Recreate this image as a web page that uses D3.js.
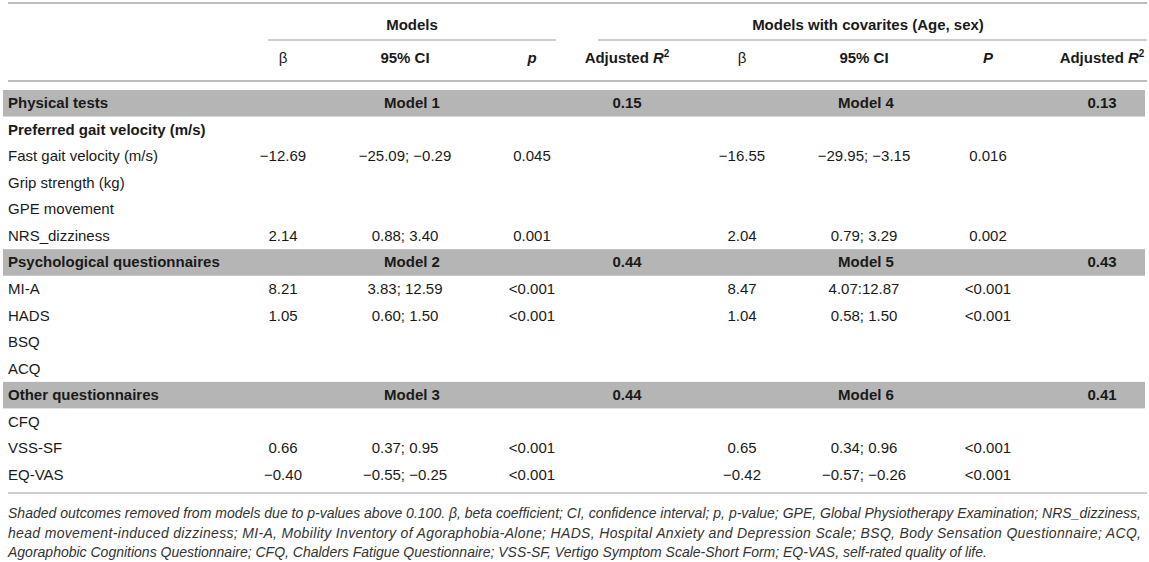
<!DOCTYPE html>
<html>
<head>
<meta charset="utf-8">
<script src="https://cdn.jsdelivr.net/npm/d3@7"></script>
<style>
  html, body { margin: 0; padding: 0; background: #fff; }
  svg { display: block; font-family: "Liberation Sans", Arial, Helvetica, sans-serif; }
</style>
</head>
<body>
<svg id="chart" width="1149" height="562"></svg>
<script>
// ---- data ----
const rowLabels = [
  "Physical tests", "Preferred gait velocity (m/s)", "Fast gait velocity (m/s)", "Grip strength (kg)",
  "GPE movement", "NRS_dizziness", "Psychological questionnaires", "MI-A", "HADS", "BSQ", "ACQ",
  "Other questionnaires", "CFQ", "VSS-SF", "EQ-VAS"
];
const rowKinds = ["group", "bold", "", "", "", "", "group", "", "", "", "", "group", "", "", ""];
const modelA = ["Model 1", "", "", "", "", "", "Model 2", "", "", "", "", "Model 3", "", "", ""];
const modelB = ["Model 4", "", "", "", "", "", "Model 5", "", "", "", "", "Model 6", "", "", ""];
const betaA = ["", "", "\u221212.69", "", "", "2.14", "", "8.21", "1.05", "", "", "", "", "0.66", "\u22120.40"];
const ciA   = ["", "", "\u221225.09; \u22120.29", "", "", "0.88; 3.40", "", "3.83; 12.59", "0.60; 1.50", "", "", "", "", "0.37; 0.95", "\u22120.55; \u22120.25"];
const pA    = ["", "", "0.045", "", "", "0.001", "", "<0.001", "<0.001", "", "", "", "", "<0.001", "<0.001"];
const r2A   = ["0.15", "", "", "", "", "", "0.44", "", "", "", "", "0.44", "", "", ""];
const betaB = ["", "", "\u221216.55", "", "", "2.04", "", "8.47", "1.04", "", "", "", "", "0.65", "\u22120.42"];
const ciB   = ["", "", "\u221229.95; \u22123.15", "", "", "0.79; 3.29", "", "4.07:12.87", "0.58; 1.50", "", "", "", "", "0.34; 0.96", "\u22120.57; \u22120.26"];
const pB    = ["", "", "0.016", "", "", "0.002", "", "<0.001", "<0.001", "", "", "", "", "<0.001", "<0.001"];
const r2B   = ["0.13", "", "", "", "", "", "0.43", "", "", "", "", "0.41", "", "", ""];
const columnKeys = ["betaA", "ciA", "pA", "r2A", "betaB", "ciB", "pB", "r2B"];
const footnoteLines = [
  "Shaded outcomes removed from models due to p-values above 0.100. \u03b2, beta coefficient; CI, confidence interval; p, p-value; GPE, Global Physiotherapy Examination; NRS_dizziness,",
  "head movement-induced dizziness; MI-A, Mobility Inventory of Agoraphobia-Alone; HADS, Hospital Anxiety and Depression Scale; BSQ, Body Sensation Questionnaire; ACQ,",
  "Agoraphobic Cognitions Questionnaire; CFQ, Chalders Fatigue Questionnaire; VSS-SF, Vertigo Symptom Scale-Short Form; EQ-VAS, self-rated quality of life."
];

const columns = { betaA, ciA, pA, r2A, betaB, ciB, pB, r2B };

// ---- layout ----
const svg = d3.select("#chart");
const y = d3.scaleBand().domain(d3.range(rowLabels.length)).range([90, 488]).paddingInner(0);
const x = d3.scaleOrdinal().domain(columnKeys).range([283, 405, 532, 627, 742, 864, 988, 1102]);
const lineColor = "#bdbdbd";
const textColor = "#1a1a1a";
const fs = 15;

// horizontal rules
svg.append("line").attr("x1", 8).attr("x2", 1147).attr("y1", 3).attr("y2", 3)
  .attr("stroke", lineColor).attr("stroke-width", 2);
svg.append("line").attr("x1", 268).attr("x2", 556).attr("y1", 40).attr("y2", 40)
  .attr("stroke", lineColor).attr("stroke-width", 1.3);
svg.append("line").attr("x1", 598).attr("x2", 1147).attr("y1", 40).attr("y2", 40)
  .attr("stroke", lineColor).attr("stroke-width", 1.3);
svg.append("line").attr("x1", 8).attr("x2", 1147).attr("y1", 81).attr("y2", 81)
  .attr("stroke", lineColor).attr("stroke-width", 2);
svg.append("line").attr("x1", 8).attr("x2", 1147).attr("y1", 493).attr("y2", 493)
  .attr("stroke", lineColor).attr("stroke-width", 1.3);

// header
const hdr = svg.append("g").attr("font-weight", "bold").attr("font-size", fs).attr("fill", textColor)
  .attr("text-anchor", "middle");
hdr.append("text").attr("x", 412).attr("y", 30).text("Models");
hdr.append("text").attr("x", 868).attr("y", 30).text("Models with covarites (Age, sex)");
const subHeads = [
  { k: "betaA", t: "\u03b2" }, { k: "ciA", t: "95% CI" }, { k: "pA", t: "p", it: true },
  { k: "r2A", t: "Adjusted ", r: true }, { k: "betaB", t: "\u03b2" }, { k: "ciB", t: "95% CI" },
  { k: "pB", t: "P", it: true }, { k: "r2B", t: "Adjusted ", r: true }
];
subHeads.forEach(h => {
  const t = hdr.append("text").attr("x", x(h.k)).attr("y", 63);
  if (h.r) {
    t.append("tspan").text(h.t);
    t.append("tspan").attr("font-style", "italic").text("R");
    t.append("tspan").attr("font-size", 10).attr("dy", -6).text("2");
  } else {
    t.text(h.t).attr("font-style", h.it ? "italic" : null);
  }
  if (h.t === "\u03b2") t.attr("font-weight", "normal");
});

// shaded group rows
const rows = svg.append("g");
rows.selectAll("rect").data(d3.range(rowLabels.length).filter(i => rowKinds[i] === "group"))
  .join("rect")
  .attr("x", 3).attr("width", 1142)
  .attr("y", i => y(i)).attr("height", y.bandwidth())
  .attr("fill", "#b5b5b5");

const base = i => y(i) + y.bandwidth() / 2 + 5;

// row labels
rows.selectAll("text.lbl").data(rowLabels).join("text")
  .attr("class", "lbl")
  .attr("x", 8).attr("y", (d, i) => base(i))
  .attr("font-size", fs).attr("fill", textColor)
  .attr("font-weight", (d, i) => rowKinds[i] ? "bold" : "normal")
  .text(d => d);

// model labels
rows.selectAll("text.ma").data(modelA).join("text").attr("class", "ma")
  .attr("x", 412).attr("y", (d, i) => base(i)).attr("text-anchor", "middle")
  .attr("font-size", fs).attr("font-weight", "bold").attr("fill", textColor).text(d => d);
rows.selectAll("text.mb").data(modelB).join("text").attr("class", "mb")
  .attr("x", 866).attr("y", (d, i) => base(i)).attr("text-anchor", "middle")
  .attr("font-size", fs).attr("font-weight", "bold").attr("fill", textColor).text(d => d);

// values
columnKeys.forEach(k => {
  const bold = k.startsWith("r2");
  rows.selectAll("text.c-" + k).data(columns[k]).join("text").attr("class", "c-" + k)
    .attr("x", x(k)).attr("y", (d, i) => base(i)).attr("text-anchor", "middle")
    .attr("font-size", fs).attr("font-weight", bold ? "bold" : "normal").attr("fill", textColor)
    .text(d => d);
});

// footnote
const fn = svg.append("g").attr("font-size", 14).attr("font-style", "italic").attr("fill", "#333");
footnoteLines.forEach((t, i) => {
  const el = fn.append("text").attr("x", 8).attr("y", 518 + i * 19.5).text(t);
  if (i < footnoteLines.length - 1) el.attr("textLength", 1133).attr("lengthAdjust", "spacing");
});
</script>
</body>
</html>
